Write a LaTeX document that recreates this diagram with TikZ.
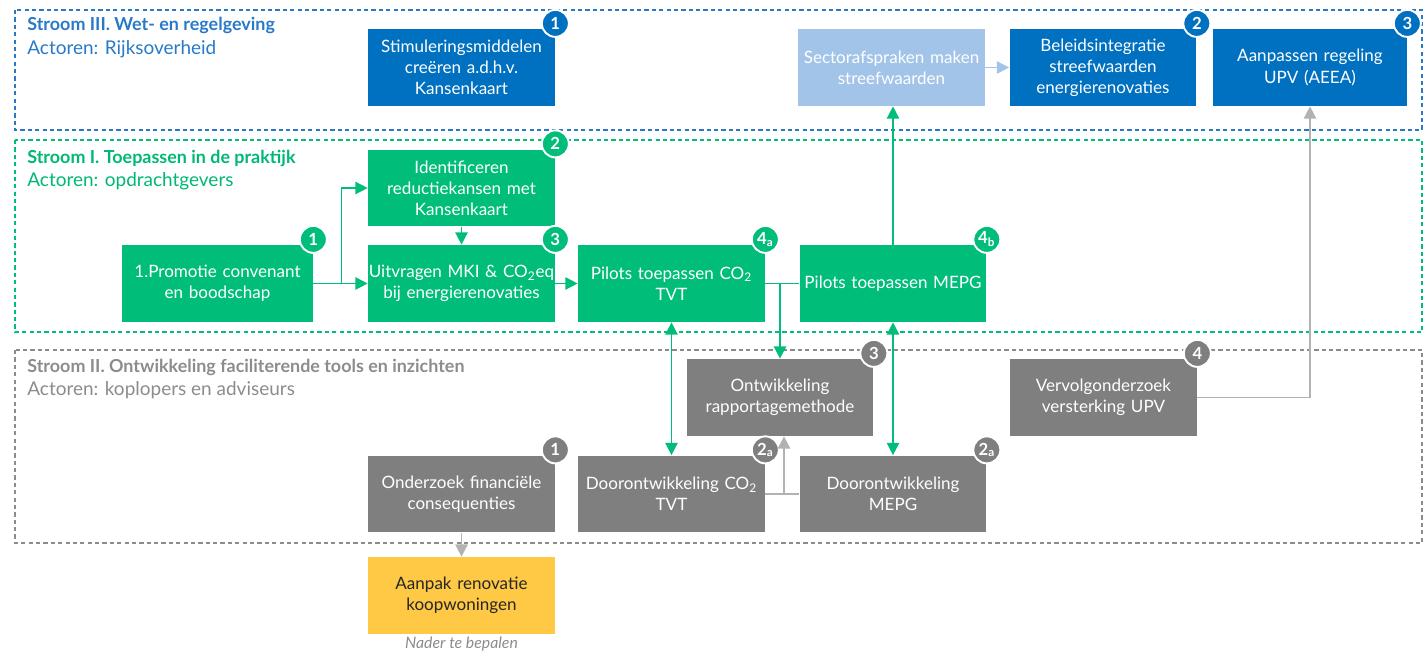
\documentclass[tikz,border=0pt]{standalone}
\usepackage{fontspec}
\setmainfont{Lato}
\usetikzlibrary{calc}
\usetikzlibrary{arrows.meta}
\usetikzlibrary{positioning}

\definecolor{bluD}{RGB}{0,112,192}
\definecolor{bluL}{RGB}{162,196,232}
\definecolor{bluT}{RGB}{40,122,200}
\definecolor{grnD}{RGB}{0,190,122}
\definecolor{grnT}{RGB}{0,184,116}
\definecolor{gryD}{RGB}{127,127,127}
\definecolor{gryL}{RGB}{178,178,178}
\definecolor{gryT}{RGB}{140,140,140}
\definecolor{ylw}{RGB}{255,200,69}

\begin{document}
\begin{tikzpicture}[x=0.02cm,y=-0.02cm,
  box/.style={fill=#1, minimum width=3.74cm, minimum height=1.54cm, text width=3.74cm,
    align=center, text=white, inner sep=0pt, font=\fontsize{9.7}{12}\selectfont},
  badge/.style={circle, fill=#1, draw=white, line width=1.1pt, minimum size=0.54cm,
    inner sep=0pt, text=white, font=\bfseries\fontsize{9.5}{10}\selectfont},
  stream/.style={draw=#1, dash pattern=on 2.4pt off 1.8pt, line width=0.6pt},
  title/.style={anchor=west, text=#1, font=\bfseries\fontsize{10.2}{12}\selectfont, inner sep=0pt},
  actor/.style={anchor=west, text=#1, font=\fontsize{10.8}{12}\selectfont, inner sep=0pt},
  >={Triangle[length=7pt,width=7pt]}]
\useasboundingbox (0,0) rectangle (1424,651);

% stromen
\draw[stream=bluT] (15,10) rectangle (1422,130);
\draw[stream=grnD] (15,140) rectangle (1422,332);
\draw[stream=gryT] (15,350) rectangle (1422,543);
\node[title=bluT] (s3) at (27,25) {Stroom III. Wet- en regelgeving};
\node[actor=bluT] (a3) at (27,49) {Actoren: Rijksoverheid};
\node[title=grnT] (s1) at (27,158) {Stroom I. Toepassen in de praktijk};
\node[actor=grnT] (a1) at (27,181) {Actoren: opdrachtgevers};
\node[title=gryT] (s2) at (27,367) {Stroom II. Ontwikkeling faciliterende tools en inzichten};
\node[actor=gryT] (a2) at (27,390) {Actoren: koplopers en adviseurs};

% stroom III
\node[box=bluD] (stim) at (461.5,67.5) {Stimuleringsmiddelen\\creëren a.d.h.v.\\Kansenkaart};
\node[box=bluL] (sector) at (891.5,67.5) {Sectorafspraken maken\\streefwaarden};
\node[box=bluD] (beleid) at (1103,67.5) {Beleidsintegratie\\streefwaarden\\energierenovaties};
\node[box=bluD, minimum width=3.88cm, text width=3.88cm] (aanpas) at (1310,67.5) {Aanpassen regeling\\UPV (AEEA)};

% stroom I
\node[box=grnD, minimum width=3.82cm, text width=3.82cm] (promo) at (217.5,283.5) {1.Promotie convenant\\en boodschap};
\node[box=grnD] (ident) at (461.5,188) {Identificeren\\reductiekansen met\\Kansenkaart};
\node[box=grnD] (uitvr) at (461.5,283.5) {Uitvragen MKI \& CO\textsubscript{2}eq\\bij energierenovaties};
\node[box=grnD] (pilco) at (671.5,283.5) {Pilots toepassen CO\textsubscript{2}\\TVT};
\node[box=grnD] (pilmepg) at (893,283.5) {Pilots toepassen MEPG};

% stroom II
\node[box=gryD] (ontw) at (780,397.5) {Ontwikkeling\\rapportagemethode};
\node[box=gryD] (vervolg) at (1103.5,397.5) {Vervolgonderzoek\\versterking UPV};
\node[box=gryD] (onderz) at (461.5,494) {Onderzoek financiële\\consequenties};
\node[box=gryD] (doorco) at (671.5,494) {Doorontwikkeling CO\textsubscript{2}\\TVT};
\node[box=gryD] (doormepg) at (893,494) {Doorontwikkeling\\MEPG};

\node[box=ylw, text=black!85] (aanpak) at (461.5,595.5) {Aanpak renovatie\\koopwoningen};
\node[below=0pt of aanpak, inner sep=1pt, text=gryT, font=\itshape\fontsize{9}{10}\selectfont] (nader) {Nader te bepalen};

% nummers
\foreach \n/\t/\c in {stim/1/bluD, beleid/2/bluD, aanpas/3/bluD,
  promo/1/grnD, ident/2/grnD, uitvr/3/grnD, pilco/4\textsubscript{a}/grnD, pilmepg/4\textsubscript{b}/grnD,
  ontw/3/gryD, vervolg/4/gryD, onderz/1/gryD, doorco/2\textsubscript{a}/gryD, doormepg/2\textsubscript{a}/gryD}
  \node[badge=\c] (\n-nr) at ([yshift=3pt]\n.north east) {\t};

% verbindingen
\draw[grnD, line width=0.9pt, ->] (promo.east) -- ++(28,0) |- (ident.west);
\draw[grnD, line width=0.9pt, ->] (promo.east) -- (uitvr.west);
\draw[grnD, line width=0.9pt, ->] (ident.south) -- (uitvr.north);
\draw[grnD, line width=0.9pt, ->] (uitvr.east) -- (pilco.west);
\draw[grnD, line width=0.9pt] (pilco.east) -- (pilmepg.west);
\draw[grnD, line width=0.9pt, ->] (ontw.north |- pilco.east) -- (ontw.north);
\draw[grnD, line width=0.9pt, ->] (pilmepg.north) -- (pilmepg.north |- sector.south);
\draw[grnD, line width=0.9pt, <->] (pilco.south) -- (doorco.north);
\draw[grnD, line width=0.9pt, <->] (pilmepg.south) -- (doormepg.north);
\draw[bluL, line width=0.9pt, ->] (sector.east) -- (beleid.west);
\draw[gryL, line width=0.9pt] (doorco.east) -- (doormepg.west);
\draw[gryL, line width=0.9pt, ->] ([xshift=0.08cm]ontw.south |- doorco.east) -- ([xshift=0.08cm]ontw.south);
\draw[gryL, line width=0.9pt, ->] (vervolg.east) -| (aanpas.south);
\draw[gryL, line width=0.9pt, ->] (onderz.south) -- (aanpak.north);
\end{tikzpicture}
\end{document}
